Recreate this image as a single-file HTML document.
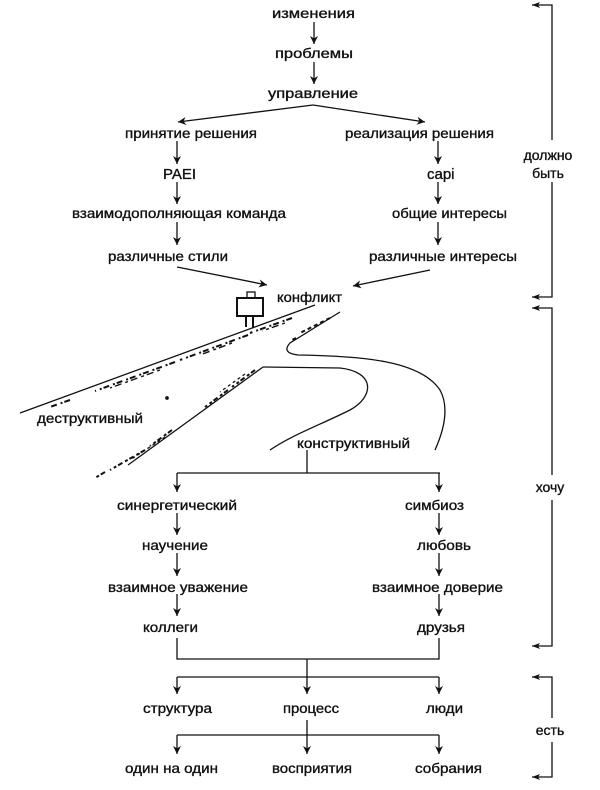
<!DOCTYPE html>
<html><head><meta charset="utf-8"><style>
html,body{margin:0;padding:0;background:#fff;}
svg{display:block;}
text{font-family:"Liberation Sans Narrow","Liberation Sans",sans-serif;font-size:14px;fill:#111;stroke:#111;stroke-width:0.35;}
</style></head><body>
<svg width="600" height="790" viewBox="0 0 600 790" xmlns="http://www.w3.org/2000/svg">
<defs>
<marker id="a" viewBox="0 0 10 10" refX="10" refY="5" markerWidth="8" markerHeight="8" orient="auto" markerUnits="userSpaceOnUse">
<path d="M0,0 L10,5 L0,10 L3,5 Z" fill="#111"/></marker>
</defs>
<g stroke="#111" stroke-width="1.3" fill="none">
<line x1="314" y1="22" x2="314" y2="44" marker-end="url(#a)"/>
<line x1="314" y1="62" x2="314" y2="84" marker-end="url(#a)"/>
<line x1="313" y1="105" x2="178" y2="122" marker-end="url(#a)"/>
<line x1="313" y1="105" x2="425" y2="122" marker-end="url(#a)"/>
<line x1="177" y1="141" x2="177" y2="164" marker-end="url(#a)"/>
<line x1="177" y1="182" x2="177" y2="204" marker-end="url(#a)"/>
<line x1="177" y1="222" x2="177" y2="245" marker-end="url(#a)"/>
<line x1="438" y1="141" x2="438" y2="164" marker-end="url(#a)"/>
<line x1="438" y1="182" x2="438" y2="204" marker-end="url(#a)"/>
<line x1="438" y1="222" x2="438" y2="245" marker-end="url(#a)"/>
<line x1="177" y1="267" x2="267" y2="285" marker-end="url(#a)"/>
<line x1="430" y1="270" x2="353" y2="286" marker-end="url(#a)"/>
<!-- road -->
<path d="M315,305 L20,413"/>
<path d="M263,367 L128,465"/>
<path d="M340,312 L290,343 Q281,353 298,355 C360,356 420,360 440,390 Q452,412 435,450"/>
<path d="M263,367 L340,368 C376,372 374,397 350,410 C320,425 292,435 270,450"/>
<path d="M292,318 L250,333 M248,335 L180,360 M175,362 L95,391 M70,400 L50,407" stroke-dasharray="6 2 2 4" stroke-width="2"/>
<path d="M285,323 L262,331 M232,343 L200,355 M160,370 L110,388" stroke-dasharray="3 4 7 3" stroke-width="1.4"/>
<path d="M255,370 L232,387 M228,390 L205,407 M172,430 L150,446 M145,450 L110,470 M105,472 L95,478" stroke-dasharray="5 2 3 3" stroke-width="2"/>
<path d="M245,374 L220,392 M165,437 L130,460" stroke-dasharray="3 3" stroke-width="1.3"/>
<path d="M330,318 L300,333 M296,338 L290,341" stroke-dasharray="4 3" stroke-width="2"/>
<circle cx="167" cy="398" r="1.2" fill="#111"/>
<!-- sign -->
<rect x="247" y="292" width="8" height="7" fill="#fff"/>
<rect x="237" y="298" width="26" height="18" fill="#fff" stroke-width="2"/>
<line x1="246" y1="316" x2="246" y2="327" stroke-width="2"/>
<line x1="253" y1="316" x2="253" y2="328" stroke-width="2"/>
<!-- lower -->
<line x1="307" y1="450" x2="307" y2="473"/>
<line x1="177" y1="473" x2="440" y2="473"/>
<line x1="177" y1="473" x2="177" y2="492" marker-end="url(#a)"/>
<line x1="439" y1="473" x2="439" y2="492" marker-end="url(#a)"/>
<line x1="177" y1="513" x2="177" y2="535" marker-end="url(#a)"/>
<line x1="177" y1="553" x2="177" y2="576" marker-end="url(#a)"/>
<line x1="177" y1="594" x2="177" y2="616" marker-end="url(#a)"/>
<line x1="439" y1="513" x2="439" y2="535" marker-end="url(#a)"/>
<line x1="439" y1="553" x2="439" y2="576" marker-end="url(#a)"/>
<line x1="439" y1="594" x2="439" y2="616" marker-end="url(#a)"/>
<path d="M177,638 L177,659 L439,659 L439,638"/>
<line x1="307" y1="659" x2="307" y2="694" marker-end="url(#a)"/>
<line x1="177" y1="677" x2="439" y2="677"/>
<line x1="177" y1="677" x2="177" y2="694" marker-end="url(#a)"/>
<line x1="439" y1="677" x2="439" y2="694" marker-end="url(#a)"/>
<line x1="307" y1="720" x2="307" y2="754" marker-end="url(#a)"/>
<line x1="177" y1="735" x2="439" y2="735"/>
<line x1="177" y1="735" x2="177" y2="754" marker-end="url(#a)"/>
<line x1="439" y1="735" x2="439" y2="754" marker-end="url(#a)"/>
<path d="M532,5 L552,5 L552,140 M552,182 L552,297 L532,297"/>
<path d="M532,308 L552,308 L552,475 M552,500 L552,646 L532,646"/>
<path d="M532,677 L552,677 L552,718 M552,742 L552,777 L532,777"/>
</g>
<g fill="#111">
<path d="M532,5 l8,-3 l-2,3 l2,3z M532,297 l8,-3 l-2,3 l2,3z M532,308 l8,-3 l-2,3 l2,3z M532,646 l8,-3 l-2,3 l2,3z M532,677 l8,-3 l-2,3 l2,3z M532,777 l8,-3 l-2,3 l2,3z"/>
</g>
<g>
<text x="272" y="18" textLength="83" lengthAdjust="spacingAndGlyphs">изменения</text>
<text x="275" y="58" textLength="78" lengthAdjust="spacingAndGlyphs">проблемы</text>
<text x="268" y="98" textLength="90" lengthAdjust="spacingAndGlyphs">управление</text>
<text x="125" y="138" textLength="132" lengthAdjust="spacingAndGlyphs">принятие решения</text>
<text x="345" y="138" textLength="149" lengthAdjust="spacingAndGlyphs">реализация решения</text>
<text x="163" y="179" style="font-size:15px">PAEI</text>
<text x="427" y="179" style="font-size:15px">capi</text>
<text x="72" y="218" textLength="214" lengthAdjust="spacingAndGlyphs">взаимодополняющая команда</text>
<text x="392" y="218" textLength="115" lengthAdjust="spacingAndGlyphs">общие интересы</text>
<text x="108" y="261" textLength="120" lengthAdjust="spacingAndGlyphs">различные стили</text>
<text x="369" y="261" textLength="148" lengthAdjust="spacingAndGlyphs">различные интересы</text>
<text x="277" y="302" textLength="65" lengthAdjust="spacingAndGlyphs">конфликт</text>
<text x="37" y="423" textLength="106" lengthAdjust="spacingAndGlyphs">деструктивный</text>
<text x="297" y="448" textLength="113" lengthAdjust="spacingAndGlyphs">конструктивный</text>
<text x="117" y="510" textLength="120" lengthAdjust="spacingAndGlyphs">синергетический</text>
<text x="405" y="510" textLength="59" lengthAdjust="spacingAndGlyphs">симбиоз</text>
<text x="142" y="550" textLength="66" lengthAdjust="spacingAndGlyphs">научение</text>
<text x="417" y="550" textLength="54" lengthAdjust="spacingAndGlyphs">любовь</text>
<text x="108" y="592" textLength="140" lengthAdjust="spacingAndGlyphs">взаимное уважение</text>
<text x="372" y="592" textLength="131" lengthAdjust="spacingAndGlyphs">взаимное доверие</text>
<text x="143" y="632" textLength="55" lengthAdjust="spacingAndGlyphs">коллеги</text>
<text x="417" y="632" textLength="48" lengthAdjust="spacingAndGlyphs">друзья</text>
<text x="143" y="713" textLength="69" lengthAdjust="spacingAndGlyphs">структура</text>
<text x="283" y="713" textLength="56" lengthAdjust="spacingAndGlyphs">процесс</text>
<text x="426" y="713" textLength="37" lengthAdjust="spacingAndGlyphs">люди</text>
<text x="125" y="773" textLength="93" lengthAdjust="spacingAndGlyphs">один на один</text>
<text x="272" y="773" textLength="80" lengthAdjust="spacingAndGlyphs">восприятия</text>
<text x="415" y="773" textLength="67" lengthAdjust="spacingAndGlyphs">собрания</text>
<text x="548" y="160" text-anchor="middle">должно</text>
<text x="548" y="178" text-anchor="middle">быть</text>
<text x="550" y="492" text-anchor="middle">хочу</text>
<text x="550" y="735" text-anchor="middle">есть</text>
</g>
</svg>
</body></html>
